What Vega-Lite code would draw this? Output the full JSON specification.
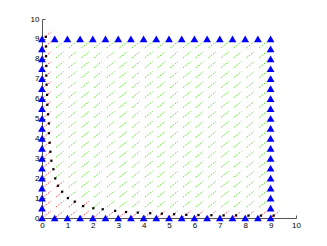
{
  "$schema": "https://vega.github.io/schema/vega-lite/v6.json",
  "autosize": {"type": "none"},
  "padding": {"left": 42, "top": 19, "right": 31, "bottom": 28},
  "width": 254,
  "height": 199,
  "background": "white",
  "config": {
    "view": {"stroke": null},
    "axis": {
      "grid": false, "title": null, "domainColor": "#555", "domainWidth": 1,
      "tickColor": "#555", "tickSize": -3, "labelPadding": 6,
      "labelFont": "Liberation Sans", "labelFontSize": 8, "labelColor": "#000",
      "labelOverlap": false, "labelFlush": false
    }
  },
  "datasets": {
    "green": [
      {"x":2,"y":0.5},{"x":2.5,"y":0.5},{"x":3,"y":0.5},{"x":3.5,"y":0.5},{"x":4,"y":0.5},{"x":4.5,"y":0.5},{"x":5,"y":0.5},{"x":5.5,"y":0.5},{"x":6,"y":0.5},{"x":6.5,"y":0.5},{"x":7,"y":0.5},{"x":7.5,"y":0.5},{"x":8,"y":0.5},{"x":8.5,"y":0.5},
      {"x":1,"y":1},{"x":1.5,"y":1},{"x":2,"y":1},{"x":2.5,"y":1},{"x":3,"y":1},{"x":3.5,"y":1},{"x":4,"y":1},{"x":4.5,"y":1},{"x":5,"y":1},{"x":5.5,"y":1},{"x":6,"y":1},{"x":6.5,"y":1},{"x":7,"y":1},{"x":7.5,"y":1},{"x":8,"y":1},{"x":8.5,"y":1},
      {"x":1,"y":1.5},{"x":1.5,"y":1.5},{"x":2,"y":1.5},{"x":2.5,"y":1.5},{"x":3,"y":1.5},{"x":3.5,"y":1.5},{"x":4,"y":1.5},{"x":4.5,"y":1.5},{"x":5,"y":1.5},{"x":5.5,"y":1.5},{"x":6,"y":1.5},{"x":6.5,"y":1.5},{"x":7,"y":1.5},{"x":7.5,"y":1.5},{"x":8,"y":1.5},{"x":8.5,"y":1.5},
      {"x":0.5,"y":2},{"x":1,"y":2},{"x":1.5,"y":2},{"x":2,"y":2},{"x":2.5,"y":2},{"x":3,"y":2},{"x":3.5,"y":2},{"x":4,"y":2},{"x":4.5,"y":2},{"x":5,"y":2},{"x":5.5,"y":2},{"x":6,"y":2},{"x":6.5,"y":2},{"x":7,"y":2},{"x":7.5,"y":2},{"x":8,"y":2},{"x":8.5,"y":2},
      {"x":0.5,"y":2.5},{"x":1,"y":2.5},{"x":1.5,"y":2.5},{"x":2,"y":2.5},{"x":2.5,"y":2.5},{"x":3,"y":2.5},{"x":3.5,"y":2.5},{"x":4,"y":2.5},{"x":4.5,"y":2.5},{"x":5,"y":2.5},{"x":5.5,"y":2.5},{"x":6,"y":2.5},{"x":6.5,"y":2.5},{"x":7,"y":2.5},{"x":7.5,"y":2.5},{"x":8,"y":2.5},{"x":8.5,"y":2.5},
      {"x":0.5,"y":3},{"x":1,"y":3},{"x":1.5,"y":3},{"x":2,"y":3},{"x":2.5,"y":3},{"x":3,"y":3},{"x":3.5,"y":3},{"x":4,"y":3},{"x":4.5,"y":3},{"x":5,"y":3},{"x":5.5,"y":3},{"x":6,"y":3},{"x":6.5,"y":3},{"x":7,"y":3},{"x":7.5,"y":3},{"x":8,"y":3},{"x":8.5,"y":3},
      {"x":0.5,"y":3.5},{"x":1,"y":3.5},{"x":1.5,"y":3.5},{"x":2,"y":3.5},{"x":2.5,"y":3.5},{"x":3,"y":3.5},{"x":3.5,"y":3.5},{"x":4,"y":3.5},{"x":4.5,"y":3.5},{"x":5,"y":3.5},{"x":5.5,"y":3.5},{"x":6,"y":3.5},{"x":6.5,"y":3.5},{"x":7,"y":3.5},{"x":7.5,"y":3.5},{"x":8,"y":3.5},{"x":8.5,"y":3.5},
      {"x":0.5,"y":4},{"x":1,"y":4},{"x":1.5,"y":4},{"x":2,"y":4},{"x":2.5,"y":4},{"x":3,"y":4},{"x":3.5,"y":4},{"x":4,"y":4},{"x":4.5,"y":4},{"x":5,"y":4},{"x":5.5,"y":4},{"x":6,"y":4},{"x":6.5,"y":4},{"x":7,"y":4},{"x":7.5,"y":4},{"x":8,"y":4},{"x":8.5,"y":4},
      {"x":0.5,"y":4.5},{"x":1,"y":4.5},{"x":1.5,"y":4.5},{"x":2,"y":4.5},{"x":2.5,"y":4.5},{"x":3,"y":4.5},{"x":3.5,"y":4.5},{"x":4,"y":4.5},{"x":4.5,"y":4.5},{"x":5,"y":4.5},{"x":5.5,"y":4.5},{"x":6,"y":4.5},{"x":6.5,"y":4.5},{"x":7,"y":4.5},{"x":7.5,"y":4.5},{"x":8,"y":4.5},{"x":8.5,"y":4.5},
      {"x":0.5,"y":5},{"x":1,"y":5},{"x":1.5,"y":5},{"x":2,"y":5},{"x":2.5,"y":5},{"x":3,"y":5},{"x":3.5,"y":5},{"x":4,"y":5},{"x":4.5,"y":5},{"x":5,"y":5},{"x":5.5,"y":5},{"x":6,"y":5},{"x":6.5,"y":5},{"x":7,"y":5},{"x":7.5,"y":5},{"x":8,"y":5},{"x":8.5,"y":5},
      {"x":0.5,"y":5.5},{"x":1,"y":5.5},{"x":1.5,"y":5.5},{"x":2,"y":5.5},{"x":2.5,"y":5.5},{"x":3,"y":5.5},{"x":3.5,"y":5.5},{"x":4,"y":5.5},{"x":4.5,"y":5.5},{"x":5,"y":5.5},{"x":5.5,"y":5.5},{"x":6,"y":5.5},{"x":6.5,"y":5.5},{"x":7,"y":5.5},{"x":7.5,"y":5.5},{"x":8,"y":5.5},{"x":8.5,"y":5.5},
      {"x":0.5,"y":6},{"x":1,"y":6},{"x":1.5,"y":6},{"x":2,"y":6},{"x":2.5,"y":6},{"x":3,"y":6},{"x":3.5,"y":6},{"x":4,"y":6},{"x":4.5,"y":6},{"x":5,"y":6},{"x":5.5,"y":6},{"x":6,"y":6},{"x":6.5,"y":6},{"x":7,"y":6},{"x":7.5,"y":6},{"x":8,"y":6},{"x":8.5,"y":6},
      {"x":0.5,"y":6.5},{"x":1,"y":6.5},{"x":1.5,"y":6.5},{"x":2,"y":6.5},{"x":2.5,"y":6.5},{"x":3,"y":6.5},{"x":3.5,"y":6.5},{"x":4,"y":6.5},{"x":4.5,"y":6.5},{"x":5,"y":6.5},{"x":5.5,"y":6.5},{"x":6,"y":6.5},{"x":6.5,"y":6.5},{"x":7,"y":6.5},{"x":7.5,"y":6.5},{"x":8,"y":6.5},{"x":8.5,"y":6.5},
      {"x":0.5,"y":7},{"x":1,"y":7},{"x":1.5,"y":7},{"x":2,"y":7},{"x":2.5,"y":7},{"x":3,"y":7},{"x":3.5,"y":7},{"x":4,"y":7},{"x":4.5,"y":7},{"x":5,"y":7},{"x":5.5,"y":7},{"x":6,"y":7},{"x":6.5,"y":7},{"x":7,"y":7},{"x":7.5,"y":7},{"x":8,"y":7},{"x":8.5,"y":7},
      {"x":0.5,"y":7.5},{"x":1,"y":7.5},{"x":1.5,"y":7.5},{"x":2,"y":7.5},{"x":2.5,"y":7.5},{"x":3,"y":7.5},{"x":3.5,"y":7.5},{"x":4,"y":7.5},{"x":4.5,"y":7.5},{"x":5,"y":7.5},{"x":5.5,"y":7.5},{"x":6,"y":7.5},{"x":6.5,"y":7.5},{"x":7,"y":7.5},{"x":7.5,"y":7.5},{"x":8,"y":7.5},{"x":8.5,"y":7.5},
      {"x":0.5,"y":8},{"x":1,"y":8},{"x":1.5,"y":8},{"x":2,"y":8},{"x":2.5,"y":8},{"x":3,"y":8},{"x":3.5,"y":8},{"x":4,"y":8},{"x":4.5,"y":8},{"x":5,"y":8},{"x":5.5,"y":8},{"x":6,"y":8},{"x":6.5,"y":8},{"x":7,"y":8},{"x":7.5,"y":8},{"x":8,"y":8},{"x":8.5,"y":8},
      {"x":0.5,"y":8.5},{"x":1,"y":8.5},{"x":1.5,"y":8.5},{"x":2,"y":8.5},{"x":2.5,"y":8.5},{"x":3,"y":8.5},{"x":3.5,"y":8.5},{"x":4,"y":8.5},{"x":4.5,"y":8.5},{"x":5,"y":8.5},{"x":5.5,"y":8.5},{"x":6,"y":8.5},{"x":6.5,"y":8.5},{"x":7,"y":8.5},{"x":7.5,"y":8.5},{"x":8,"y":8.5},{"x":8.5,"y":8.5}
    ],
    "red": [
      {"x":0,"y":0},{"x":0,"y":0.5},{"x":0,"y":1},{"x":0,"y":1.5},{"x":0,"y":2},{"x":0,"y":2.5},{"x":0,"y":3},{"x":0,"y":3.5},{"x":0,"y":4},{"x":0,"y":4.5},{"x":0,"y":5},{"x":0,"y":5.5},{"x":0,"y":6},{"x":0,"y":6.5},{"x":0,"y":7},{"x":0,"y":7.5},{"x":0,"y":8},{"x":0,"y":8.5},{"x":0,"y":9},
      {"x":0.5,"y":0},{"x":1,"y":0},{"x":1.5,"y":0},{"x":2,"y":0},{"x":2.5,"y":0},{"x":3,"y":0},{"x":3.5,"y":0},{"x":4,"y":0},{"x":4.5,"y":0},{"x":5,"y":0},{"x":5.5,"y":0},{"x":6,"y":0},{"x":6.5,"y":0},{"x":7,"y":0},{"x":7.5,"y":0},{"x":8,"y":0},{"x":8.5,"y":0},{"x":9,"y":0},
      {"x":0.5,"y":0.5},{"x":0.5,"y":1},{"x":0.5,"y":1.5},{"x":1,"y":0.5},{"x":1.5,"y":0.5}
    ],
    "tri": [
      {"x":0,"y":0},{"x":0,"y":0.5},{"x":0,"y":1},{"x":0,"y":1.5},{"x":0,"y":2},{"x":0,"y":2.5},{"x":0,"y":3},{"x":0,"y":3.5},{"x":0,"y":4},{"x":0,"y":4.5},{"x":0,"y":5},{"x":0,"y":5.5},{"x":0,"y":6},{"x":0,"y":6.5},{"x":0,"y":7},{"x":0,"y":7.5},{"x":0,"y":8},{"x":0,"y":8.5},{"x":0,"y":9},
      {"x":0.5,"y":9},{"x":1,"y":9},{"x":1.5,"y":9},{"x":2,"y":9},{"x":2.5,"y":9},{"x":3,"y":9},{"x":3.5,"y":9},{"x":4,"y":9},{"x":4.5,"y":9},{"x":5,"y":9},{"x":5.5,"y":9},{"x":6,"y":9},{"x":6.5,"y":9},{"x":7,"y":9},{"x":7.5,"y":9},{"x":8,"y":9},{"x":8.5,"y":9},{"x":9,"y":9},
      {"x":9,"y":0},{"x":9,"y":0.5},{"x":9,"y":1},{"x":9,"y":1.5},{"x":9,"y":2},{"x":9,"y":2.5},{"x":9,"y":3},{"x":9,"y":3.5},{"x":9,"y":4},{"x":9,"y":4.5},{"x":9,"y":5},{"x":9,"y":5.5},{"x":9,"y":6},{"x":9,"y":6.5},{"x":9,"y":7},{"x":9,"y":7.5},{"x":9,"y":8},{"x":9,"y":8.5},
      {"x":0.5,"y":0},{"x":1,"y":0},{"x":1.5,"y":0},{"x":2,"y":0},{"x":2.5,"y":0},{"x":3,"y":0},{"x":3.5,"y":0},{"x":4,"y":0},{"x":4.5,"y":0},{"x":5,"y":0},{"x":5.5,"y":0},{"x":6,"y":0},{"x":6.5,"y":0},{"x":7,"y":0},{"x":7.5,"y":0},{"x":8,"y":0},{"x":8.5,"y":0}
    ],
    "dots": [
      {"x":0.15,"y":9.1},{"x":0.16,"y":8.62},{"x":0.16,"y":8.13},{"x":0.17,"y":7.64},{"x":0.17,"y":7.16},{"x":0.18,"y":6.7},{"x":0.2,"y":6.19},{"x":0.21,"y":5.69},{"x":0.24,"y":5.21},{"x":0.27,"y":4.75},{"x":0.27,"y":4.26},{"x":0.3,"y":3.78},{"x":0.33,"y":3.33},{"x":0.37,"y":2.88},{"x":0.45,"y":2.45},{"x":0.52,"y":1.99},{"x":0.63,"y":1.62},{"x":0.79,"y":1.32},{"x":1.02,"y":1.0},{"x":1.29,"y":0.82},{"x":1.62,"y":0.6},{"x":2.02,"y":0.49},{"x":2.39,"y":0.44},{"x":2.88,"y":0.36},{"x":3.31,"y":0.3},{"x":3.77,"y":0.27},{"x":4.26,"y":0.24},{"x":4.72,"y":0.22},{"x":5.2,"y":0.19},{"x":5.68,"y":0.16},{"x":6.16,"y":0.15},{"x":6.67,"y":0.14},{"x":7.15,"y":0.13},{"x":7.64,"y":0.13},{"x":8.13,"y":0.12},{"x":8.62,"y":0.12},{"x":9.12,"y":0.12}
    ]
  },
  "encoding": {
    "x": {"field": "x", "type": "quantitative",
      "scale": {"domain": [0, 10], "nice": false, "zero": false},
      "axis": {"values": [0,1,2,3,4,5,6,7,8,9,10], "format": "d"}},
    "y": {"field": "y", "type": "quantitative",
      "scale": {"domain": [0, 10], "nice": false, "zero": false},
      "axis": {"values": [0,1,2,3,4,5,6,7,8,9,10], "format": "d"}}
  },
  "layer": [
    {"data": {"name": "green"},
     "mark": {"type": "point", "shape": "M0.254,-0.2L1.78,-1.4", "size": 100, "filled": false, "color": "#44e010", "strokeWidth": 0.9, "strokeDash": [1.6, 1.4], "opacity": 1}},
    {"data": {"name": "red"},
     "mark": {"type": "point", "shape": "M0.254,-0.2L1.78,-1.4", "size": 100, "filled": false, "color": "#ff3a3a", "strokeWidth": 0.9, "strokeDash": [1.6, 1.4], "opacity": 1}},
    {"data": {"name": "tri"},
     "mark": {"type": "point", "shape": "triangle-up", "size": 60, "filled": true, "color": "#0000ff", "opacity": 1}},
    {"data": {"name": "dots"},
     "mark": {"type": "point", "shape": "square", "size": 5, "filled": true, "color": "#000000", "opacity": 1}}
  ]
}
